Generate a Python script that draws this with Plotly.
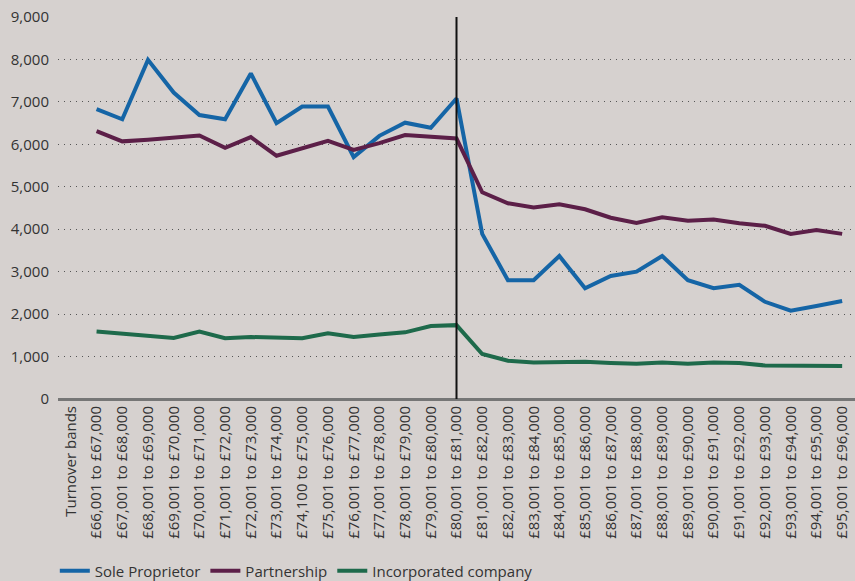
import plotly.graph_objects as go

categories = ["Turnover bands",
    "£66,001 to £67,000", "£67,001 to £68,000", "£68,001 to £69,000", "£69,001 to £70,000",
    "£70,001 to £71,000", "£71,001 to £72,000", "£72,001 to £73,000", "£73,001 to £74,000",
    "£74,100 to £75,000", "£75,001 to £76,000", "£76,001 to £77,000", "£77,001 to £78,000",
    "£78,001 to £79,000", "£79,001 to £80,000", "£80,001 to £81,000", "£81,001 to £82,000",
    "£82,001 to £83,000", "£83,001 to £84,000", "£84,001 to £85,000", "£85,001 to £86,000",
    "£86,001 to £87,000", "£87,001 to £88,000", "£88,001 to £89,000", "£89,001 to £90,000",
    "£90,001 to £91,000", "£91,001 to £92,000", "£92,001 to £93,000", "£93,001 to £94,000",
    "£94,001 to £95,000", "£95,001 to £96,000"]

sole_proprietor = [None, 6830, 6590, 7990, 7220, 6690, 6590, 7670, 6500, 6890, 6890,
                   5700, 6200, 6510, 6390, 7080, 3890, 2800, 2800, 3370, 2610,
                   2900, 3000, 3370, 2800, 2610, 2690, 2290, 2080, 2190, 2310]
partnership = [None, 6310, 6070, 6110, 6160, 6210, 5920, 6170, 5730, 5900, 6080,
               5870, 6030, 6220, 6180, 6140, 4870, 4610, 4510, 4590, 4470,
               4270, 4150, 4280, 4200, 4230, 4140, 4080, 3890, 3980, 3890]
incorporated = [None, 1590, 1540, 1490, 1440, 1590, 1430, 1460, 1450, 1430, 1550,
                1460, 1520, 1570, 1720, 1740, 1060, 900, 860, 860, 880,
                850, 830, 860, 830, 860, 850, 790, 780, 790, 780]

y_ticks = [0, 1000, 2000, 3000, 4000, 5000, 6000, 7000, 8000, 9000]
divider_band = "£80,001 to £81,000"

font_family = "Open Sans, DejaVu Sans, sans-serif"

fig = go.Figure()
for name, vals, color in [("Sole Proprietor", sole_proprietor, "#1565a6"),
                          ("Partnership", partnership, "#5c1f48"),
                          ("Incorporated company", incorporated, "#1e6a4b")]:
    fig.add_trace(go.Scatter(x=categories, y=vals, name=name, mode="lines",
                             line=dict(color=color, width=4), connectgaps=False))

fig.add_shape(type="line", xref="x", yref="paper", x0=divider_band, x1=divider_band,
              y0=0, y1=1, line=dict(color="#111111", width=2))

fig.update_layout(
    width=855, height=581,
    paper_bgcolor="#d6d1cf", plot_bgcolor="#d6d1cf",
    margin=dict(l=58, r=0, t=17, b=182, autoexpand=False),
    font=dict(family=font_family, size=15, color="#333333"),
    showlegend=True,
    legend=dict(orientation="h", x=-0.004, xanchor="left", y=-0.45, yanchor="middle",
                bgcolor="rgba(0,0,0,0)", font=dict(size=15, color="#333333"),
                itemwidth=30, tracegroupgap=0),
    xaxis=dict(type="category", categoryorder="array", categoryarray=categories,
               range=[-0.5, len(categories) - 0.5],
               tickangle=-90, tickfont=dict(size=15, color="#333333"),
               showgrid=False, showline=False, ticks="", ticklabelstandoff=3,
               automargin=False),
    yaxis=dict(range=[0, 9000], tickvals=y_ticks, tickformat=",",
               showgrid=True, gridcolor="#555555", griddash="1px,5px", gridwidth=1,
               zeroline=True, zerolinecolor="#767676", zerolinewidth=2.5,
               showline=False, ticks="", ticklabelstandoff=8,
               tickfont=dict(size=15, color="#333333"), automargin=False),
)

fig.write_html("out.html", config={"displayModeBar": False},
               post_script="document.body.style.margin='0';document.body.style.padding='0';")
